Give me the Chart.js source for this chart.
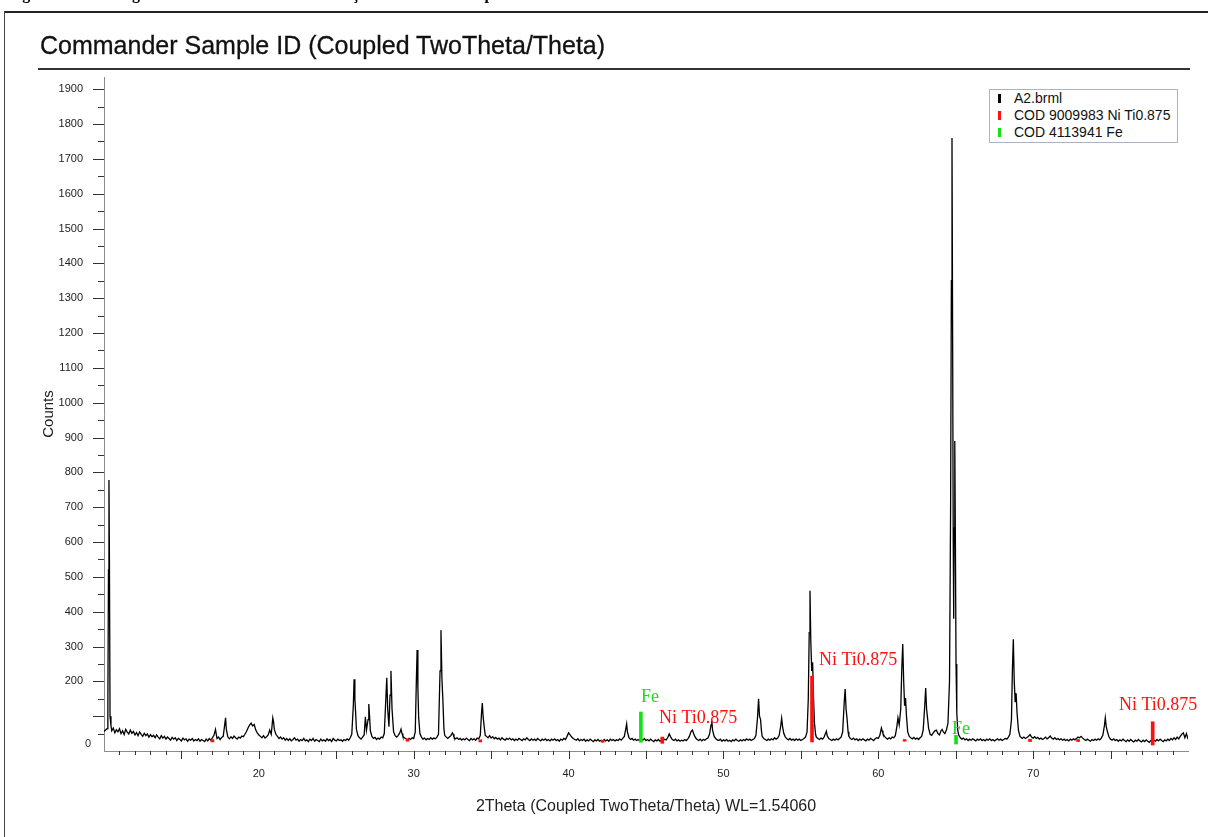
<!DOCTYPE html>
<html>
<head>
<meta charset="utf-8">
<script src="https://cdn.jsdelivr.net/npm/chart.js@4.4.1/dist/chart.umd.min.js"></script>
<style>
  body { margin: 0; background: #fff; }
  #wrap { position: relative; width: 1208px; height: 837px; overflow: hidden; }
  #xrd { position: absolute; left: 0; top: 0; }
  .caption { position: absolute; left: 8px; top: -14px; font: bold 16px "Liberation Serif", "Times New Roman", serif; line-height: 16px; white-space: nowrap; color: #000; }
  .frame-top { position: absolute; left: 4px; top: 11px; width: 1204px; height: 0; border-top: 2px solid #222; }
  .frame-left { position: absolute; left: 4px; top: 11px; width: 0; height: 826px; border-left: 1px solid #444; }
  .title { position: absolute; left: 40px; top: 30px; font: 25px "Liberation Sans", Arial, sans-serif; line-height: 30px; color: #111; white-space: nowrap; -webkit-text-stroke: 0.3px #111; }
  .rule { position: absolute; left: 38px; top: 68px; width: 1152px; border-top: 2px solid #333; }
  #legend { position: absolute; left: 989px; top: 89px; width: 187px; height: 52px; border: 1px solid #aab3c5; background: #fff; font: 14px "Liberation Sans", Arial, sans-serif; color: #111; }
  #legend div { position: relative; height: 17px; line-height: 17px; padding-left: 24px; white-space: nowrap; }
  #legend span { position: absolute; left: 8px; top: 4px; width: 3px; height: 9px; }
</style>
</head>
<body>
<div id="wrap">
  <canvas id="xrd" width="1208" height="837"></canvas>
  <div class="caption">Figura 5 – Difratograma da amostra A2 com variação do tamanho de partícula do NiTi com Fe</div>
  <div class="frame-top"></div>
  <div class="frame-left"></div>
  <div class="title">Commander Sample ID (Coupled TwoTheta/Theta)</div>
  <div class="rule"></div>
  <div id="legend"></div>
</div>
<script>
// measured scan A2.brml: [2theta, counts]
var scanPoints = [
  [10.0,56],[10.1,60],[10.2,64],[10.25,140],[10.29,520],[10.32,778],[10.35,560],[10.39,100],[10.45,72],[10.5,58],[10.6,66],[10.7,52],[10.8,61],[10.9,55],
  [11.0,64],[11.1,50],[11.2,58],[11.3,47],[11.4,62],[11.5,54],[11.6,49],[11.7,60],[11.8,51],[11.9,56],
  [12.0,46],[12.1,53],[12.2,44],[12.3,55],[12.4,48],[12.5,42],[12.6,51],[12.7,44],[12.8,49],[12.9,40],
  [13.0,47],[13.1,41],[13.2,45],[13.3,38],[13.4,46],[13.5,40],[13.6,35],[13.7,44],[13.8,37],[13.9,42],
  [14.0,34],[14.1,40],[14.2,36],[14.3,31],[14.4,39],[14.5,34],[14.6,38],[14.7,30],[14.8,36],[14.9,33],
  [15.0,29],[15.1,37],[15.2,32],[15.3,35],[15.4,28],[15.5,34],[15.6,31],[15.7,36],[15.8,29],[15.9,33],
  [16.0,30],[16.1,35],[16.2,28],[16.3,33],[16.4,30],[16.5,27],[16.6,34],[16.7,29],[16.8,36],[16.9,31],
  [17.0,38],[17.1,45],[17.2,62],[17.25,48],[17.3,36],[17.4,40],[17.5,33],[17.6,39],[17.7,42],[17.8,78],[17.85,95],[17.9,62],
  [18.0,40],[18.1,35],[18.2,41],[18.3,36],[18.4,43],[18.5,38],[18.6,34],[18.7,40],[18.8,37],[18.9,43],
  [19.0,41],[19.1,48],[19.2,56],[19.3,66],[19.4,74],[19.5,80],[19.6,72],[19.7,76],[19.8,60],[19.9,52],
  [20.0,46],[20.1,42],[20.2,38],[20.3,44],[20.4,37],[20.5,41],[20.6,46],[20.7,60],[20.8,48],[20.9,95],[20.95,84],
  [21.0,62],[21.1,48],[21.2,42],[21.3,36],[21.4,40],[21.5,34],[21.6,38],[21.7,31],[21.8,36],[21.9,30],
  [22.0,35],[22.1,29],[22.2,33],[22.3,38],[22.4,31],[22.5,34],[22.6,28],[22.7,33],[22.8,30],[22.9,36],
  [23.0,29],[23.1,32],[23.2,27],[23.3,34],[23.4,30],[23.5,36],[23.6,28],[23.7,33],[23.8,30],[23.9,27],
  [24.0,34],[24.1,29],[24.2,32],[24.3,28],[24.4,35],[24.5,30],[24.6,33],[24.7,27],[24.8,36],[24.9,31],
  [25.0,29],[25.1,34],[25.2,30],[25.3,32],[25.4,28],[25.5,33],[25.6,30],[25.7,35],[25.8,31],[25.9,38],
  [26.0,48],[26.1,130],[26.15,206],[26.2,150],[26.25,110],[26.3,62],[26.4,44],[26.5,38],[26.6,34],[26.7,40],[26.8,46],[26.88,98],[26.95,60],
  [27.05,90],[27.1,135],[27.15,100],[27.2,58],[27.3,42],[27.4,36],[27.5,39],[27.6,33],[27.7,37],[27.8,34],[27.9,40],
  [28.0,38],[28.1,50],[28.2,150],[28.26,210],[28.32,120],[28.4,70],[28.47,160],[28.53,230],[28.6,120],[28.7,55],[28.8,44],[28.9,40],
  [29.0,45],[29.1,52],[29.18,63],[29.25,50],[29.3,42],[29.4,38],[29.5,35],[29.6,31],[29.7,36],[29.8,33],[29.9,38],
  [30.0,36],[30.1,55],[30.17,200],[30.22,290],[30.27,180],[30.32,95],[30.4,50],[30.5,40],[30.6,34],[30.7,37],[30.8,32],[30.9,36],
  [31.0,33],[31.1,38],[31.2,34],[31.3,37],[31.4,35],[31.5,40],[31.6,48],[31.7,230],[31.76,347],[31.82,210],[31.88,150],[31.95,65],
  [32.0,45],[32.1,40],[32.2,36],[32.3,40],[32.4,44],[32.5,52],[32.55,48],[32.6,40],[32.7,35],[32.8,38],[32.9,33],
  [33.0,36],[33.1,31],[33.2,35],[33.3,32],[33.4,37],[33.5,33],[33.6,30],[33.7,36],[33.8,32],[33.9,35],
  [34.0,31],[34.1,37],[34.2,35],[34.3,45],[34.38,110],[34.43,138],[34.48,100],[34.55,70],[34.62,45],[34.7,42],[34.8,38],[34.9,44],
  [35.0,37],[35.1,41],[35.2,35],[35.3,39],[35.4,34],[35.5,37],[35.6,32],[35.7,38],[35.8,34],[35.9,31],
  [36.0,36],[36.1,33],[36.2,37],[36.3,32],[36.4,35],[36.5,30],[36.6,34],[36.7,31],[36.8,36],[36.9,33],
  [37.0,30],[37.1,35],[37.2,32],[37.3,38],[37.4,33],[37.5,30],[37.6,35],[37.7,31],[37.8,34],[37.9,30],
  [38.0,36],[38.1,32],[38.2,29],[38.3,34],[38.4,31],[38.5,35],[38.6,30],[38.7,33],[38.8,29],[38.9,34],
  [39.0,31],[39.1,35],[39.2,30],[39.3,33],[39.4,28],[39.5,34],[39.6,31],[39.7,36],[39.8,33],[39.9,42],
  [40.0,52],[40.1,46],[40.2,40],[40.3,36],[40.4,33],[40.5,31],[40.6,35],[40.7,29],[40.8,33],[40.9,30],
  [41.0,34],[41.1,28],[41.2,32],[41.3,29],[41.4,34],[41.5,30],[41.6,27],[41.7,32],[41.8,29],[41.9,33],
  [42.0,28],[42.1,31],[42.2,27],[42.3,33],[42.4,29],[42.5,32],[42.6,28],[42.7,34],[42.8,30],[42.9,33],
  [43.0,29],[43.1,32],[43.2,30],[43.3,35],[43.4,31],[43.5,36],[43.6,42],[43.7,65],[43.75,78],[43.8,55],[43.9,38],
  [44.0,33],[44.1,36],[44.2,31],[44.3,34],[44.4,30],[44.5,33],[44.6,29],[44.7,34],[44.8,31],[44.9,36],
  [45.0,30],[45.1,33],[45.2,29],[45.3,34],[45.4,30],[45.5,27],[45.6,32],[45.7,29],[45.8,33],[45.9,28],
  [46.0,31],[46.1,30],[46.2,34],[46.3,32],[46.4,38],[46.5,49],[46.6,40],[46.7,33],[46.8,30],[46.9,34],
  [47.0,29],[47.1,32],[47.2,28],[47.3,31],[47.4,29],[47.5,33],[47.6,30],[47.7,35],[47.8,42],[47.9,55],
  [48.0,60],[48.1,47],[48.2,38],[48.3,33],[48.4,30],[48.5,34],[48.6,29],[48.7,33],[48.8,31],[48.9,35],
  [49.0,37],[49.1,48],[49.2,75],[49.25,86],[49.3,60],[49.4,42],[49.5,36],[49.6,32],[49.7,30],[49.8,34],[49.9,28],
  [50.0,32],[50.1,29],[50.2,33],[50.3,28],[50.4,31],[50.5,27],[50.6,32],[50.7,29],[50.8,34],[50.9,30],
  [51.0,28],[51.1,32],[51.2,29],[51.3,33],[51.4,30],[51.5,35],[51.6,31],[51.7,34],[51.8,30],[51.9,33],
  [52.0,36],[52.1,45],[52.2,95],[52.27,150],[52.33,100],[52.4,90],[52.45,60],[52.5,42],[52.6,36],[52.7,33],[52.8,30],[52.9,34],
  [53.0,31],[53.1,35],[53.2,32],[53.3,38],[53.4,34],[53.5,37],[53.6,45],[53.7,72],[53.76,94],[53.82,70],[53.9,50],
  [54.0,40],[54.1,35],[54.2,32],[54.3,36],[54.4,31],[54.5,34],[54.6,30],[54.7,35],[54.8,31],[54.9,34],
  [55.0,30],[55.1,33],[55.2,36],[55.3,40],[55.4,55],[55.48,150],[55.54,340],[55.59,460],[55.64,320],[55.7,230],[55.76,255],[55.82,150],[55.88,80],[55.95,48],
  [56.0,40],[56.1,36],[56.2,33],[56.3,37],[56.4,34],[56.5,40],[56.6,52],[56.65,57],[56.7,44],[56.8,36],[56.9,33],
  [57.0,30],[57.1,34],[57.2,31],[57.3,35],[57.4,32],[57.5,36],[57.6,40],[57.7,55],[57.8,140],[57.86,178],[57.92,120],[57.98,95],
  [58.05,55],[58.1,42],[58.2,36],[58.3,33],[58.4,37],[58.5,32],[58.6,35],[58.7,30],[58.8,34],[58.9,31],
  [59.0,35],[59.1,32],[59.2,29],[59.3,34],[59.4,31],[59.5,36],[59.6,33],[59.7,30],[59.8,35],[59.9,38],
  [60.0,36],[60.1,45],[60.2,66],[60.25,58],[60.3,50],[60.4,42],[60.5,37],[60.6,34],[60.7,38],[60.8,35],[60.9,40],
  [61.0,38],[61.1,44],[61.2,70],[61.27,95],[61.35,75],[61.45,120],[61.52,240],[61.58,307],[61.64,200],[61.7,130],[61.76,152],[61.82,100],[61.9,55],
  [62.0,42],[62.1,38],[62.2,35],[62.3,39],[62.4,34],[62.5,37],[62.6,33],[62.7,38],[62.8,42],[62.9,60],
  [63.0,130],[63.06,181],[63.12,120],[63.18,95],[63.25,65],[63.35,48],[63.45,45],[63.55,52],[63.65,58],[63.75,60],[63.85,50],[63.95,46],
  [64.05,58],[64.12,62],[64.2,55],[64.3,50],[64.4,60],[64.5,80],[64.6,200],[64.67,700],[64.72,1350],[64.76,1760],[64.8,1200],[64.84,600],[64.87,380],[64.9,640],[64.94,890],[64.98,600],
  [65.02,250],[65.07,110],[65.13,60],[65.2,45],[65.3,38],[65.4,34],[65.5,37],[65.6,32],[65.7,35],[65.8,30],[65.9,34],
  [66.0,31],[66.1,35],[66.2,32],[66.3,29],[66.4,34],[66.5,31],[66.6,35],[66.7,30],[66.8,33],[66.9,29],
  [67.0,34],[67.1,31],[67.2,35],[67.3,30],[67.4,33],[67.5,29],[67.6,32],[67.7,35],[67.8,31],[67.9,34],
  [68.0,30],[68.1,33],[68.2,36],[68.3,34],[68.4,40],[68.5,48],[68.6,90],[68.66,230],[68.72,321],[68.78,200],[68.84,140],[68.9,166],[68.96,110],
  [69.05,60],[69.15,42],[69.25,38],[69.3,36],[69.4,40],[69.5,36],[69.6,39],[69.7,42],[69.8,47],[69.9,40],
  [70.0,37],[70.1,41],[70.2,36],[70.3,39],[70.4,34],[70.5,37],[70.6,33],[70.7,36],[70.8,40],[70.9,35],
  [71.0,38],[71.1,43],[71.2,37],[71.3,34],[71.4,38],[71.5,33],[71.6,36],[71.7,32],[71.8,35],[71.9,31],
  [72.0,34],[72.1,30],[72.2,33],[72.3,29],[72.4,34],[72.5,31],[72.6,35],[72.7,32],[72.8,36],[72.9,40],
  [73.0,38],[73.1,42],[73.2,37],[73.3,33],[73.4,30],[73.5,34],[73.6,31],[73.7,28],[73.8,33],[73.9,30],
  [74.0,34],[74.1,31],[74.2,35],[74.3,32],[74.4,37],[74.5,45],[74.6,72],[74.66,95],[74.72,70],[74.8,55],[74.9,40],
  [75.0,34],[75.1,31],[75.2,35],[75.3,30],[75.4,33],[75.5,28],[75.6,32],[75.7,29],[75.8,34],[75.9,30],
  [76.0,27],[76.1,32],[76.2,28],[76.3,33],[76.4,29],[76.5,26],[76.6,31],[76.7,28],[76.8,33],[76.9,29],
  [77.0,26],[77.1,31],[77.2,27],[77.3,32],[77.4,28],[77.5,25],[77.6,30],[77.7,27],[77.8,31],[77.9,28],
  [78.0,33],[78.1,29],[78.2,34],[78.3,30],[78.4,27],[78.5,32],[78.6,29],[78.7,34],[78.8,30],[78.9,36],
  [79.0,32],[79.1,38],[79.2,33],[79.3,40],[79.4,35],[79.5,42],[79.6,48],[79.7,52],[79.8,38],[79.9,50],[80.0,34]
];

// reference pattern sticks (bottom / top counts)
var niTiAngles = [17.0, 29.6, 34.3, 42.2, 46.05, 55.72, 61.7, 69.8, 72.9, 77.72];
var niTiBase   = [26, 28, 26, 25, 22, 26, 28, 27, 27, 17];
var niTiTop    = [33, 35, 32, 31, 40, 215, 33, 34, 33, 84];
var feAngles = [44.67, 65.02];
var feBase   = [25, 20];
var feTop    = [112, 45];

// peak labels (left edge 2theta, middle counts)
var peakLabelText  = ['Fe', 'Ni Ti0.875', 'Ni Ti0.875', 'Fe', 'Ni Ti0.875'];
var peakLabelPhase = ['fe', 'niti', 'niti', 'fe', 'niti'];
var peakLabelAngle = [44.68, 45.84, 56.17, 64.76, 75.54];
var peakLabelCount = [155, 95, 261, 63, 132];

var seriesNames = ['A2.brml', 'COD 9009983 Ni Ti0.875', 'COD 4113941 Fe'];

var RED = '#ff1010';
var GREEN = '#16e016';
var phaseColor = { niti: RED, fe: GREEN };

function sticks(angles, base, top) {
    return angles.map(function (a, i) { return { x: a, y: [base[i], top[i]] }; });
}

var tickMarks = {
    id: 'tickMarks',
    afterDraw: function (chart) {
        var ctx = chart.ctx, xs = chart.scales.x, ys = chart.scales.y, area = chart.chartArea;
        ctx.save();
        ctx.strokeStyle = '#333';
        ctx.lineWidth = 1;
        ctx.beginPath();
        for (var d = 11; d < 80; d++) {
            var px = Math.round(xs.getPixelForValue(d)) + 0.5;
            var len = d % 5 === 0 ? 8 : 4;
            ctx.moveTo(px, area.bottom);
            ctx.lineTo(px, area.bottom + len);
        }
        for (var v = 50; v <= 1900; v += 50) {
            var py = Math.round(ys.getPixelForValue(v)) + 0.5;
            var l = v % 100 === 0 ? 11 : 6;
            ctx.moveTo(area.left - l, py);
            ctx.lineTo(area.left, py);
        }
        ctx.stroke();
        ctx.fillStyle = '#333';
        ctx.font = '11px "Liberation Sans", Arial, sans-serif';
        ctx.textAlign = 'right';
        ctx.textBaseline = 'middle';
        ctx.fillText('0', area.left - 13, ys.getPixelForValue(0) - 7);
        ctx.restore();
    }
};

var peakLabels = {
    id: 'peakLabels',
    afterDatasetsDraw: function (chart) {
        var ctx = chart.ctx, xs = chart.scales.x, ys = chart.scales.y;
        ctx.save();
        ctx.font = '18px "Liberation Serif", "Times New Roman", serif';
        ctx.textAlign = 'left';
        ctx.textBaseline = 'middle';
        peakLabelText.forEach(function (t, i) {
            ctx.fillStyle = phaseColor[peakLabelPhase[i]];
            ctx.fillText(t, xs.getPixelForValue(peakLabelAngle[i]), ys.getPixelForValue(peakLabelCount[i]));
        });
        ctx.restore();
    }
};

var canvas = document.getElementById('xrd');

var chart = new Chart(canvas, {
    type: 'line',
    data: {
        datasets: [
            {
                type: 'bar',
                label: seriesNames[1],
                data: sticks(niTiAngles, niTiBase, niTiTop),
                backgroundColor: RED,
                barThickness: 3,
                grouped: false,
                order: 0
            },
            {
                type: 'bar',
                label: seriesNames[2],
                data: sticks(feAngles, feBase, feTop),
                backgroundColor: GREEN,
                barThickness: 3,
                grouped: false,
                order: 0
            },
            {
                label: seriesNames[0],
                data: scanPoints.map(function (p) { return { x: p[0], y: p[1] }; }),
                borderColor: '#000',
                borderWidth: 1.3,
                pointRadius: 0,
                tension: 0,
                order: 1
            }
        ]
    },
    options: {
        responsive: false,
        animation: false,
        events: [],
        layout: { padding: { top: 77, right: 20, left: 0, bottom: 0 } },
        plugins: { legend: { display: false }, tooltip: { enabled: false }, title: { display: false } },
        scales: {
            x: {
                type: 'linear',
                min: 10,
                max: 80,
                offset: false,
                grid: { display: false },
                border: { display: true, color: '#8c8c8c', width: 1 },
                ticks: {
                    stepSize: 10,
                    padding: 8,
                    color: '#222',
                    font: { family: '"Liberation Sans", Arial, sans-serif', size: 11 },
                    maxRotation: 0,
                    autoSkip: false,
                    callback: function (v) { return (v > 10 && v < 80) ? String(v) : ''; }
                },
                title: {
                    display: true,
                    text: '2Theta (Coupled TwoTheta/Theta) WL=1.54060',
                    color: '#222',
                    font: { family: '"Liberation Sans", Arial, sans-serif', size: 16 },
                    padding: { top: 0, bottom: 21 }
                },
                afterFit: function (s) { s.height = 86; }
            },
            y: {
                type: 'linear',
                min: 0,
                max: 1935,
                grid: { display: false },
                border: { display: true, color: '#8c8c8c', width: 1 },
                ticks: {
                    stepSize: 100,
                    includeBounds: false,
                    padding: 13,
                    color: '#222',
                    font: { family: '"Liberation Sans", Arial, sans-serif', size: 11 },
                    autoSkip: false,
                    callback: function (v) {
                        var r = Math.round(v);
                        return (r >= 200 && r % 100 === 0 && r <= 1900) ? String(r) : '';
                    }
                },
                title: {
                    display: true,
                    text: 'Counts',
                    color: '#222',
                    font: { family: '"Liberation Sans", Arial, sans-serif', size: 15 },
                    padding: { top: 40, bottom: 0 }
                },
                afterFit: function (s) { s.width = 104; }
            }
        }
    },
    plugins: [tickMarks, peakLabels]
});

// legend box built from the dataset labels
var legendColors = { };
legendColors[seriesNames[0]] = '#000';
legendColors[seriesNames[1]] = RED;
legendColors[seriesNames[2]] = GREEN;
var legend = document.getElementById('legend');
seriesNames.forEach(function (name) {
    var row = document.createElement('div');
    var mark = document.createElement('span');
    mark.style.background = legendColors[name];
    row.appendChild(mark);
    row.appendChild(document.createTextNode(name));
    legend.appendChild(row);
});
</script>
</body>
</html>
